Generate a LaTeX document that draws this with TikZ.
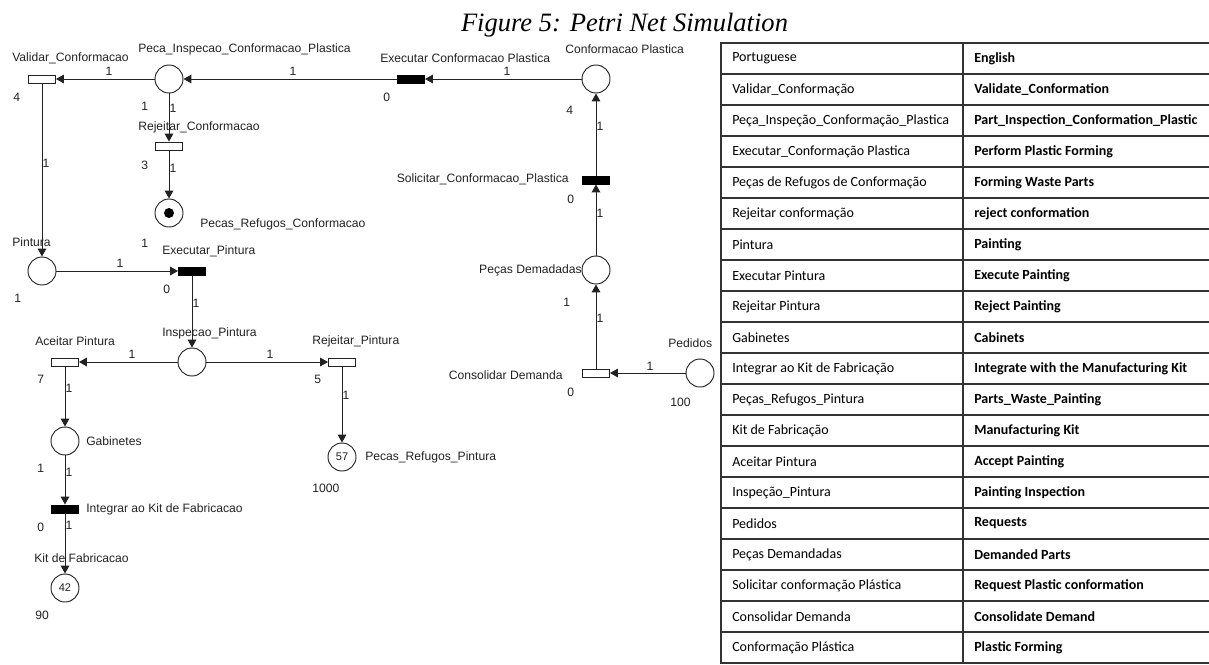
\documentclass[tikz,border=0pt]{standalone}
\usepackage{fontspec}
\newfontfamily\netfont{Liberation Sans}
\newfontfamily\tabfont{Carlito}
\newfontfamily\capfont{Liberation Serif}
\usetikzlibrary{arrows.meta}
\definecolor{ink}{HTML}{222222}
\definecolor{rule}{HTML}{333333}
\begin{document}
\begin{tikzpicture}[x=0.75pt,y=-0.75pt,
  every node/.style={text=ink},
  place/.style={circle,draw=ink,line width=0.7pt,minimum size=21pt,inner sep=0pt,fill=white,
    font=\netfont\fontsize{8.3}{10}\selectfont},
  trans/.style={rectangle,draw=ink,line width=0.7pt,minimum width=20.25pt,minimum height=6pt,inner sep=0pt,fill=white},
  transf/.style={trans,fill=black,draw=black},
  token/.style={circle,fill=black,minimum size=7.5pt,inner sep=0pt},
  lbl/.style={font=\netfont\fontsize{9.1}{11}\selectfont,inner sep=0pt,anchor=west},
  lble/.style={lbl,anchor=east},
  wt/.style={font=\netfont\fontsize{9.1}{11}\selectfont,inner sep=0pt},
  arc/.style={draw=ink,line width=0.75pt,-{Triangle[length=6pt,width=6.5pt]}},
  cell/.style={font=\tabfont\fontsize{10.5}{12}\selectfont,inner sep=0pt,anchor=west,text=black},
  cellb/.style={cell,font=\tabfont\bfseries\fontsize{10.5}{12}\selectfont}
]
\useasboundingbox (0,0) rectangle (1209,664);

% caption
\node[font=\capfont\itshape\fontsize{19.9}{22}\selectfont,anchor=base,text=black,inner sep=0pt]
  (caption) at (624.5,31) {Figure 5: Petri Net Simulation};

% places
\node[place] (ppeca)     at (169,79)  {};
\node[place] (pconf)     at (596,79)  {};
\node[place] (prefconf)  at (169,213) {};
\node[token] (tok)       at (169,213) {};
\node[place] (ppint)     at (42,271)  {};
\node[place] (pinsp)     at (192,362) {};
\node[place] (pdem)      at (596,270) {};
\node[place] (pped)      at (700,373) {};
\node[place] (pgab)      at (65,441)  {};
\node[place] (prefpint)  at (342,457) {57};
\node[place] (pkit)      at (65,588)  {42};

% transitions
\node[trans]  (tvalid)   at (42,79)   {};
\node[transf] (texconf)  at (411,79)  {};
\node[trans]  (trejconf) at (169,146) {};
\node[transf] (texpint)  at (192,271) {};
\node[trans]  (taceit)   at (65,362)  {};
\node[trans]  (trejpint) at (342,362) {};
\node[transf] (tsolic)   at (596,180) {};
\node[trans]  (tconsol)  at (596,373) {};
\node[transf] (tinteg)   at (65,509)  {};

% arcs
\draw[arc] (texconf) -- (ppeca);
\draw[arc] (pconf) -- (texconf);
\draw[arc] (ppeca) -- (tvalid);
\draw[arc] (ppeca) -- (trejconf);
\draw[arc] (trejconf) -- (prefconf);
\draw[arc] (tvalid) -- (ppint);
\draw[arc] (ppint) -- (texpint);
\draw[arc] (texpint) -- (pinsp);
\draw[arc] (pinsp) -- (taceit);
\draw[arc] (pinsp) -- (trejpint);
\draw[arc] (taceit) -- (pgab);
\draw[arc] (trejpint) -- (prefpint);
\draw[arc] (pgab) -- (tinteg);
\draw[arc] (tinteg) -- (pkit);
\draw[arc] (pped) -- (tconsol);
\draw[arc] (tconsol) -- (pdem);
\draw[arc] (pdem) -- (tsolic);
\draw[arc] (tsolic) -- (pconf);

% arc weights
\node[wt] (w1)  at (293,71)  {1};
\node[wt] (w2)  at (507,71)  {1};
\node[wt] (w3)  at (109,71)  {1};
\node[wt] (w4)  at (173,108) {1};
\node[wt] (w5)  at (173,168) {1};
\node[wt] (w6)  at (46,163)  {1};
\node[wt] (w7)  at (120,263) {1};
\node[wt] (w8)  at (196,303) {1};
\node[wt] (w9)  at (132,354) {1};
\node[wt] (w10) at (270,354) {1};
\node[wt] (w11) at (69,388)  {1};
\node[wt] (w12) at (346,395) {1};
\node[wt] (w13) at (69,472)  {1};
\node[wt] (w14) at (69,525)  {1};
\node[wt] (w15) at (650,366) {1};
\node[wt] (w16) at (600,318) {1};
\node[wt] (w17) at (600,213) {1};
\node[wt] (w18) at (600,126) {1};

% element names
\node[lbl]  (nvalid)   at (12,58)   {Validar\_Conformacao};
\node[lbl]  (npeca)    at (138,49)  {Peca\_Inspecao\_Conformacao\_Plastica};
\node[lbl]  (nexconf)  at (380,58)  {Executar Conformacao Plastica};
\node[lbl]  (nconf)    at (565,49)  {Conformacao Plastica};
\node[lbl]  (nrejconf) at (138,127) {Rejeitar\_Conformacao};
\node[lbl]  (nrefconf) at (200,224) {Pecas\_Refugos\_Conformacao};
\node[lbl]  (npint)    at (12,242)  {Pintura};
\node[lbl]  (nexpint)  at (162,251) {Executar\_Pintura};
\node[lbl]  (ninsp)    at (162,333) {Inspecao\_Pintura};
\node[lbl]  (naceit)   at (35,341)  {Aceitar Pintura};
\node[lbl]  (nrejpint) at (312,341) {Rejeitar\_Pintura};
\node[lbl]  (ngab)     at (86,441)  {Gabinetes};
\node[lbl]  (ninteg)   at (86,509)  {Integrar ao Kit de Fabricacao};
\node[lbl]  (nkit)     at (34,558)  {Kit de Fabricacao};
\node[lbl]  (nrefpint) at (365,457) {Pecas\_Refugos\_Pintura};
\node[lble] (nsolic)   at (569,179) {Solicitar\_Conformacao\_Plastica};
\node[lble] (ndem)     at (582,270) {Peças Demadadas};
\node[lble] (nconsol)  at (563,375) {Consolidar Demanda};
\node[lbl]  (nped)     at (668,343) {Pedidos};

% counters
\node[lbl] (c1)  at (13,97)   {4};
\node[lbl] (c2)  at (141,106) {1};
\node[lbl] (c3)  at (383,97)  {0};
\node[lbl] (c4)  at (566,110) {4};
\node[lbl] (c5)  at (141,165) {3};
\node[lbl] (c6)  at (141,243) {1};
\node[lbl] (c7)  at (14,298)  {1};
\node[lbl] (c8)  at (163,289) {0};
\node[lbl] (c9)  at (37,379)  {7};
\node[lbl] (c10) at (314,379) {5};
\node[lbl] (c11) at (37,468)  {1};
\node[lbl] (c12) at (37,527)  {0};
\node[lbl] (c13) at (35,615)  {90};
\node[lbl] (c14) at (312,488) {1000};
\node[lbl] (c15) at (567,199) {0};
\node[lbl] (c16) at (563,302) {1};
\node[lbl] (c17) at (567,392) {0};
\node[lbl] (c18) at (670,402) {100};

% glossary table
\foreach \pt/\en [count=\i] in {
  Portuguese/English,
  Validar\_Conformação/Validate\_Conformation,
  Peça\_Inspeção\_Conformação\_Plastica/Part\_Inspection\_Conformation\_Plastic,
  Executar\_Conformação Plastica/Perform Plastic Forming,
  Peças de Refugos de Conformação/Forming Waste Parts,
  Rejeitar conformação/reject conformation,
  Pintura/Painting,
  Executar Pintura/Execute Painting,
  Rejeitar Pintura/Reject Painting,
  Gabinetes/Cabinets,
  Integrar ao Kit de Fabricação/Integrate with the Manufacturing Kit,
  Peças\_Refugos\_Pintura/Parts\_Waste\_Painting,
  Kit de Fabricação/Manufacturing Kit,
  Aceitar Pintura/Accept Painting,
  Inspeção\_Pintura/Painting Inspection,
  Pedidos/Requests,
  Peças Demandadas/Demanded Parts,
  Solicitar conformação Plástica/Request Plastic conformation,
  Consolidar Demanda/Consolidate Demand,
  Conformação Plástica/Plastic Forming}
{
  \node[cell]  (pt\i) at (732,{43+31*\i-15.5}) {\pt};
  \node[cellb] (en\i) at (974,{43+31*\i-15.5}) {\en};
  \draw[rule,line width=0.9pt] (721,{43+31*\i}) -- (1209,{43+31*\i});
}
\draw[rule,line width=0.9pt] (963,43) -- (963,663);
\draw[rule,line width=1.4pt] (1209,43) -- (721,43) -- (721,663) -- (1209,663);
\end{tikzpicture}
\end{document}
